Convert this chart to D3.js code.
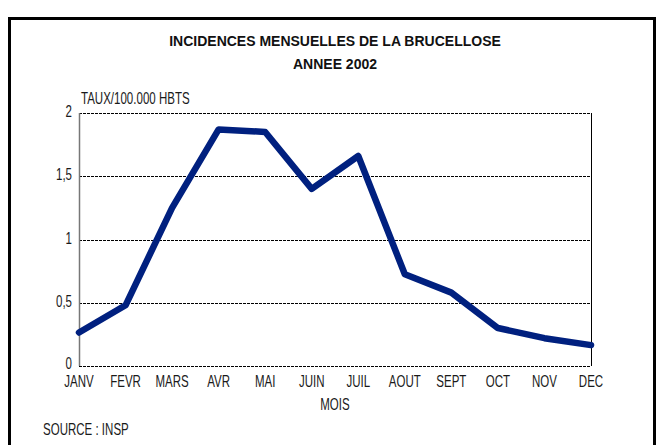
<!DOCTYPE html>
<html>
<head>
<meta charset="utf-8">
<script src="https://cdn.jsdelivr.net/npm/d3@7"></script>
<style>
  body { margin: 0; background: #fff; }
</style>
</head>
<body>
<svg width="661" height="445"></svg>
<script>
var months = ['JANV', 'FEVR', 'MARS', 'AVR', 'MAI', 'JUIN', 'JUIL', 'AOUT', 'SEPT', 'OCT', 'NOV', 'DEC'];
var taux = [0.265, 0.48, 1.25, 1.87, 1.85, 1.40, 1.66, 0.725, 0.58, 0.30, 0.22, 0.165];
var yTicks = [0, 0.5, 1, 1.5, 2];
var yTickLabels = ['0', '0,5', '1', '1,5', '2'];

var svg = d3.select('svg');
var squeeze = 0.72;

// narrow label: draw at (px,py), squeezed horizontally
function narrow(g, px, py, txt, anchor) {
  return g.append('text')
    .attr('transform', 'translate(' + px + ',' + py + ') scale(' + squeeze + ',1)')
    .attr('text-anchor', anchor || 'start')
    .style('font', '16px "Liberation Sans", Arial, sans-serif')
    .style('fill', '#1a1a1a')
    .text(txt);
}

// outer frame
svg.append('rect')
  .attr('x', 9.5).attr('y', 18.5)
  .attr('width', 645).attr('height', 440)
  .attr('fill', 'none').attr('stroke', '#000').attr('stroke-width', 3);

var x = d3.scalePoint().domain(months).range([79, 591]);
var y = d3.scaleLinear().domain([0, 2]).range([366, 113]);

// title
svg.append('text').attr('x', 335).attr('y', 46)
  .attr('text-anchor', 'middle')
  .style('font', 'bold 14px "Liberation Sans", Arial, sans-serif')
  .style('fill', '#111')
  .text('INCIDENCES MENSUELLES DE LA BRUCELLOSE');
svg.append('text').attr('x', 335).attr('y', 69)
  .attr('text-anchor', 'middle')
  .style('font', 'bold 14px "Liberation Sans", Arial, sans-serif')
  .style('fill', '#111')
  .text('ANNEE 2002');

// gridlines
svg.append('g').selectAll('line')
  .data(yTicks)
  .join('line')
  .attr('x1', x.range()[0]).attr('x2', x.range()[1])
  .attr('y1', function(d) { return Math.round(y(d)) + 0.5; })
  .attr('y2', function(d) { return Math.round(y(d)) + 0.5; })
  .attr('stroke', '#000').attr('stroke-width', 1)
  .attr('stroke-dasharray', '3,1');

// right border and left axis
svg.append('line')
  .attr('x1', 591.5).attr('x2', 591.5).attr('y1', y(2)).attr('y2', y(0))
  .attr('stroke', '#000').attr('stroke-width', 1);
svg.append('line')
  .attr('x1', 79.5).attr('x2', 79.5).attr('y1', y(2)).attr('y2', y(0))
  .attr('stroke', '#777').attr('stroke-width', 1.5);

// y tick labels (the 0 sits a little higher so it clears JANV)
var gy = svg.append('g');
yTicks.forEach(function(d, i) {
  narrow(gy, 72, y(d) + (d === 0 ? 3 : 4), yTickLabels[i], 'end');
});

// x tick labels
var gx = svg.append('g');
months.forEach(function(m) {
  narrow(gx, x(m), 387, m, 'middle');
});

narrow(svg, 335, 410, 'MOIS', 'middle');
narrow(svg, 81, 104, 'TAUX/100.000 HBTS');
narrow(svg, 43, 435, 'SOURCE : INSP');

// data line
var line = d3.line()
  .x(function(d, i) { return x(months[i]); })
  .y(function(d) { return y(d); });

svg.append('path')
  .datum(taux)
  .attr('d', line)
  .attr('fill', 'none')
  .attr('stroke', '#00207f')
  .attr('stroke-width', 6.5)
  .attr('stroke-linejoin', 'round')
  .attr('stroke-linecap', 'round');
</script>
</body>
</html>
